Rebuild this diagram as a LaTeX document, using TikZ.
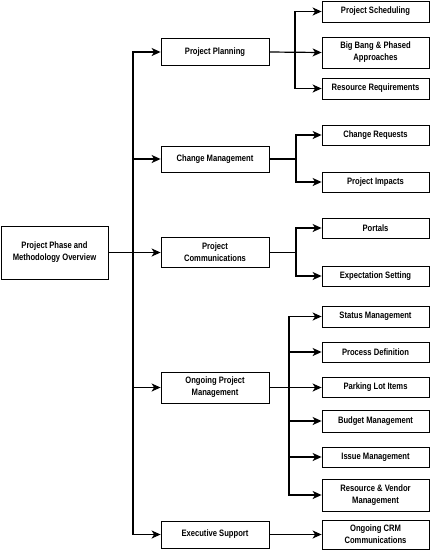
\documentclass[tikz,border=0pt]{standalone}
\usepackage{fontspec}
\setmainfont{Liberation Sans}[FakeStretch=0.82]
\usetikzlibrary{arrows.meta}
\usetikzlibrary{positioning}

\tikzset{
  box/.style={draw, line width=0.8pt, align=center, inner sep=1pt,
    font=\bfseries\fontsize{9.3}{12}\selectfont},
  topic/.style={box, minimum width=108pt},
  subtopic/.style={box, minimum width=107pt},
  link/.style={line width=1.2pt},
  arr/.style={link, -{Stealth[length=9pt,width=8pt,inset=2.5pt]}}
}

\begin{document}
\begin{tikzpicture}[x=1pt,y=-1pt]
    \useasboundingbox (0,0) rectangle (430,550);
    % root
    \node[topic, minimum width=107pt, minimum height=53pt] (root) at (54.5,252.5) {Project Phase and\\Methodology Overview};
    % first level
    \node[topic, minimum height=27pt] (plan)    at (215,52)    {Project Planning};
    \node[topic, minimum height=26pt] (change)  at (215,159)   {Change Management};
    \node[topic, minimum height=30pt] (comm)    at (215,252.5) {Project\\Communications};
    \node[topic, minimum height=31pt] (ongoing) at (215,387.5) {Ongoing Project\\Management};
    \node[topic, minimum height=27pt] (exec)    at (215,534.5) {Executive Support};
    % second level
    \node[subtopic, minimum height=21pt] (sched)   at (375.5,11.5) {Project Scheduling};
    \node[subtopic, minimum height=31pt] (bigbang) at (375.5,52.5) {Big Bang \& Phased\\Approaches};
    \node[subtopic, minimum height=21pt] (resreq)  at (375.5,88.5) {Resource Requirements};
    \node[subtopic, minimum height=20pt] (creq)    at (375.5,135)  {Change Requests};
    \node[subtopic, minimum height=20pt] (impacts) at (375.5,182)  {Project Impacts};
    \node[subtopic, minimum height=20pt] (portals) at (375.5,228)  {Portals};
    \node[subtopic, minimum height=20pt] (expect)  at (375.5,276)  {Expectation Setting};
    \node[subtopic, minimum height=21pt] (status)  at (375.5,316.5) {Status Management};
    \node[subtopic, minimum height=20pt] (process) at (375.5,352)  {Process Definition};
    \node[subtopic, minimum height=20pt] (parking) at (375.5,387.5) {Parking Lot Items};
    \node[subtopic, minimum height=22pt] (budget)  at (375.5,421)  {Budget Management};
    \node[subtopic, minimum height=20pt] (issue)   at (375.5,457)  {Issue Management};
    \node[subtopic, minimum height=32pt] (vendor)  at (375.5,495)  {Resource \& Vendor\\Management};
    \node[subtopic, minimum height=29pt] (crm)     at (375.5,534.5) {Ongoing CRM\\Communications};

    % forks
    \coordinate (trunk)  at (133,252.5);
    \coordinate (planfk) at (295,52);
    \coordinate (chfk)   at (296,159);
    \coordinate (comfk)  at (296,252.5);
    \coordinate (ongfk)  at (289,387.5);

    % root to first level
    \draw[arr] (root.east) -- (comm.west);
    \foreach \n in {plan,change,ongoing,exec}
        \draw[arr] (trunk) |- (\n.west);

    % first level to second level
    \draw[arr] (plan.east) -- (bigbang.west);
    \foreach \n in {sched,resreq}
        \draw[arr] (planfk) |- (\n.west);
    \draw[link] (change.east) -- (chfk);
    \foreach \n in {creq,impacts}
        \draw[arr] (chfk) |- (\n.west);
    \draw[link] (comm.east) -- (comfk);
    \foreach \n in {portals,expect}
        \draw[arr] (comfk) |- (\n.west);
    \draw[arr] (ongoing.east) -- (parking.west);
    \foreach \n in {status,process,budget,issue,vendor}
        \draw[arr] (ongfk) |- (\n.west);
    \draw[arr] (exec.east) -- (crm.west);
\end{tikzpicture}
\end{document}
